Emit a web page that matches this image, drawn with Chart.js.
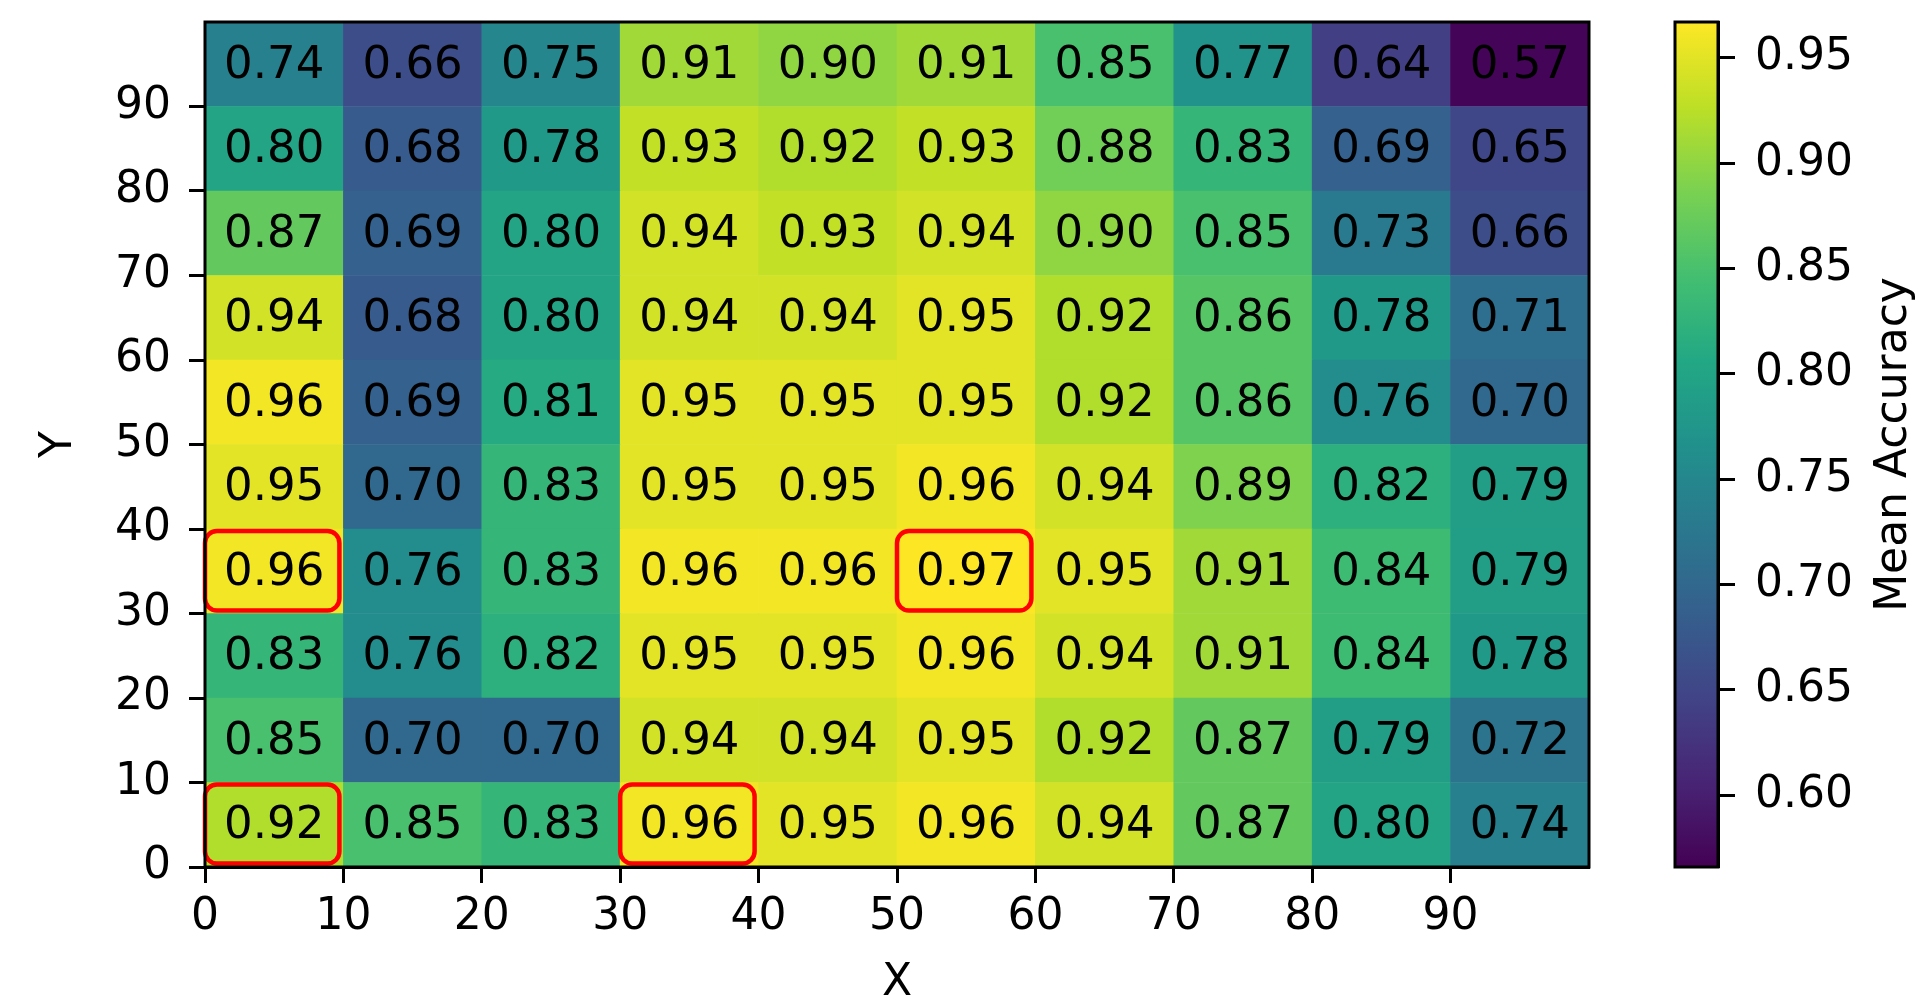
<!DOCTYPE html>
<html>
<head>
<meta charset="utf-8">
<script src="https://cdn.jsdelivr.net/npm/chart.js@4.4.1/dist/chart.umd.min.js"></script>
<style>
  html, body { margin: 0; padding: 0; background: #fff; overflow: hidden; }
  #main { position: absolute; left: 0; top: 0; width: 1917px; height: 1006px; }
  #bar { position: absolute; left: 1600px; top: 0; width: 317px; height: 1006px; }
</style>
</head>
<body>
<div id="main"><canvas id="heat"></canvas></div>
<div id="bar"><canvas id="cbar"></canvas></div>
<script>
// grid bins (left / bottom edge of each cell)
var binSize = 10;
var xBins = [0, 10, 20, 30, 40, 50, 60, 70, 80, 90];
var yBins = [90, 80, 70, 60, 50, 40, 30, 20, 10, 0]; // same order as the rows below

// mean accuracy, one row per y bin (top row first)
var accY90 = [0.74, 0.66, 0.75, 0.91, 0.90, 0.91, 0.85, 0.77, 0.64, 0.57];
var accY80 = [0.80, 0.68, 0.78, 0.93, 0.92, 0.93, 0.88, 0.83, 0.69, 0.65];
var accY70 = [0.87, 0.69, 0.80, 0.94, 0.93, 0.94, 0.90, 0.85, 0.73, 0.66];
var accY60 = [0.94, 0.68, 0.80, 0.94, 0.94, 0.95, 0.92, 0.86, 0.78, 0.71];
var accY50 = [0.96, 0.69, 0.81, 0.95, 0.95, 0.95, 0.92, 0.86, 0.76, 0.70];
var accY40 = [0.95, 0.70, 0.83, 0.95, 0.95, 0.96, 0.94, 0.89, 0.82, 0.79];
var accY30 = [0.96, 0.76, 0.83, 0.96, 0.96, 0.97, 0.95, 0.91, 0.84, 0.79];
var accY20 = [0.83, 0.76, 0.82, 0.95, 0.95, 0.96, 0.94, 0.91, 0.84, 0.78];
var accY10 = [0.85, 0.70, 0.70, 0.94, 0.94, 0.95, 0.92, 0.87, 0.79, 0.72];
var accY0  = [0.92, 0.85, 0.83, 0.96, 0.95, 0.96, 0.94, 0.87, 0.80, 0.74];
var accuracy = [accY90, accY80, accY70, accY60, accY50, accY40, accY30, accY20, accY10, accY0];

// cells marked with a red box [x bin, y bin]
var bestCells = [[0, 30], [50, 30], [0, 0], [30, 0]];

// colour bar range and ticks
var vMin = 0.566;
var vMax = 0.967;
var cbarTicks = [0.60, 0.65, 0.70, 0.75, 0.80, 0.85, 0.90, 0.95];

var FONT = '"DejaVu Sans", sans-serif';

var viridisStops = ['#440154', '#482475', '#414487', '#355f8d', '#2a788e',
  '#21918c', '#22a884', '#44bf70', '#7ad151', '#bddf26', '#fde725'];

function hexRgb(h) {
  return [parseInt(h.substr(1, 2), 16), parseInt(h.substr(3, 2), 16), parseInt(h.substr(5, 2), 16)];
}
function viridis(v) {
  var t = (v - vMin) / (vMax - vMin);
  t = Math.max(0, Math.min(1, t));
  var p = t * (viridisStops.length - 1);
  var i = Math.min(Math.floor(p), viridisStops.length - 2);
  var f = p - i;
  var a = hexRgb(viridisStops[i]), b = hexRgb(viridisStops[i + 1]);
  return 'rgb(' + Math.round(a[0] + (b[0] - a[0]) * f) + ',' +
    Math.round(a[1] + (b[1] - a[1]) * f) + ',' + Math.round(a[2] + (b[2] - a[2]) * f) + ')';
}

var cells = [];
var cellColors = [];
yBins.forEach(function(yb, r) {
  xBins.forEach(function(xb, c) {
    var val = accuracy[r][c];
    var best = bestCells.some(function(b) { return b[0] === xb && b[1] === yb; });
    cells.push({x: xb + binSize / 2, y: [yb, yb + binSize], v: val, best: best});
    cellColors.push(viridis(val));
  });
});

var cellLabels = {
  id: 'cellLabels',
  afterDatasetsDraw: function(chart) {
    var ctx = chart.ctx;
    var meta = chart.getDatasetMeta(0);
    ctx.save();
    ctx.font = '45px ' + FONT;
    ctx.textAlign = 'center';
    ctx.textBaseline = 'middle';
    ctx.fillStyle = '#000';
    meta.data.forEach(function(el, i) {
      var d = cells[i];
      ctx.fillText(d.v.toFixed(2), el.x, (el.y + el.base) / 2 + 2);
    });
    ctx.strokeStyle = '#ff0000';
    ctx.lineWidth = 4.5;
    meta.data.forEach(function(el, i) {
      if (!cells[i].best) return;
      var top = Math.min(el.y, el.base), bot = Math.max(el.y, el.base);
      ctx.beginPath();
      ctx.roundRect(el.x - el.width / 2 + 0, top + 2, el.width - 4, bot - top - 5, 12);
      ctx.stroke();
    });
    var a = chart.chartArea;
    ctx.strokeStyle = '#000';
    ctx.lineWidth = 3;
    ctx.strokeRect(a.left, a.top, a.right - a.left, a.bottom - a.top);
    ctx.restore();
  }
};

var tickFont = {family: FONT, size: 44};

new Chart(document.getElementById('heat'), {
  type: 'bar',
  data: {
    datasets: [{
      data: cells,
      backgroundColor: cellColors,
      borderWidth: 0,
      barPercentage: 1,
      categoryPercentage: 1
    }]
  },
  options: {
    responsive: true,
    maintainAspectRatio: false,
    animation: false,
    layout: {padding: {left: 0, top: 22, right: 328, bottom: 0}},
    plugins: {legend: {display: false}, tooltip: {enabled: false}},
    scales: {
      x: {
        type: 'linear', min: 0, max: 100, offset: false,
        afterFit: function(s) { s.height = 139; s.paddingLeft = 0; s.paddingRight = 0; },
        grid: {offset: false, drawOnChartArea: false, tickLength: 16, tickWidth: 3, tickColor: '#000'},
        border: {display: true, color: '#000', width: 3},
        ticks: {
          stepSize: 10, autoSkip: false, maxRotation: 0, padding: 8, color: '#000', font: tickFont,
          callback: function(v) { return v < 100 ? String(v) : null; }
        },
        title: {display: true, text: 'X', color: '#000', font: {family: FONT, size: 44, lineHeight: 1}, padding: {top: 0, bottom: 0}}
      },
      y: {
        type: 'linear', min: 0, max: 100,
        afterFit: function(s) { s.width = 205; s.paddingTop = 0; s.paddingBottom = 0; },
        grid: {drawOnChartArea: false, tickLength: 16, tickWidth: 3, tickColor: '#000'},
        border: {display: true, color: '#000', width: 3},
        ticks: {
          stepSize: 10, autoSkip: false, padding: 18, color: '#000', font: tickFont,
          callback: function(v) { return v < 100 ? String(v) : null; }
        },
        title: {display: true, text: 'Y', color: '#000', font: {family: FONT, size: 44, lineHeight: 1.2}, padding: {top: 33, bottom: 0}}
      }
    }
  },
  plugins: [cellLabels]
});

var colorBar = {
  id: 'colorBar',
  beforeDatasetsDraw: function(chart) {
    var ctx = chart.ctx, a = chart.chartArea, ys = chart.scales.y;
    var g = ctx.createLinearGradient(0, ys.getPixelForValue(vMin), 0, ys.getPixelForValue(vMax));
    viridisStops.forEach(function(c, i) { g.addColorStop(i / (viridisStops.length - 1), c); });
    ctx.save();
    ctx.fillStyle = g;
    ctx.fillRect(a.left, a.top, a.right - a.left, a.bottom - a.top);
    ctx.strokeStyle = '#000';
    ctx.lineWidth = 3;
    ctx.strokeRect(a.left, a.top, a.right - a.left, a.bottom - a.top);
    // colour bar label, reading bottom to top
    ctx.translate(295, (a.top + a.bottom) / 2);
    ctx.rotate(-Math.PI / 2);
    ctx.font = '44px ' + FONT;
    ctx.fillStyle = '#000';
    ctx.textAlign = 'center';
    ctx.textBaseline = 'middle';
    ctx.fillText('Mean Accuracy', 0, 0);
    ctx.restore();
  }
};

new Chart(document.getElementById('cbar'), {
  type: 'scatter',
  data: {datasets: [{data: []}]},
  options: {
    responsive: true,
    maintainAspectRatio: false,
    animation: false,
    layout: {padding: {left: 75, top: 22, right: 0, bottom: 139}},
    plugins: {legend: {display: false}, tooltip: {enabled: false}},
    scales: {
      x: {display: false},
      y: {
        position: 'right', min: vMin, max: vMax,
        afterFit: function(s) { s.width = 199; s.paddingTop = 0; s.paddingBottom = 0; },
        afterBuildTicks: function(s) { s.ticks = cbarTicks.map(function(v) { return {value: v}; }); },
        grid: {drawOnChartArea: false, tickLength: 17, tickWidth: 3, tickColor: '#000'},
        border: {display: true, color: '#000', width: 3},
        ticks: {
          padding: 20, color: '#000', font: tickFont,
          callback: function(v) { return v.toFixed(2); }
        }
      }
    }
  },
  plugins: [colorBar]
});
</script>
</body>
</html>
